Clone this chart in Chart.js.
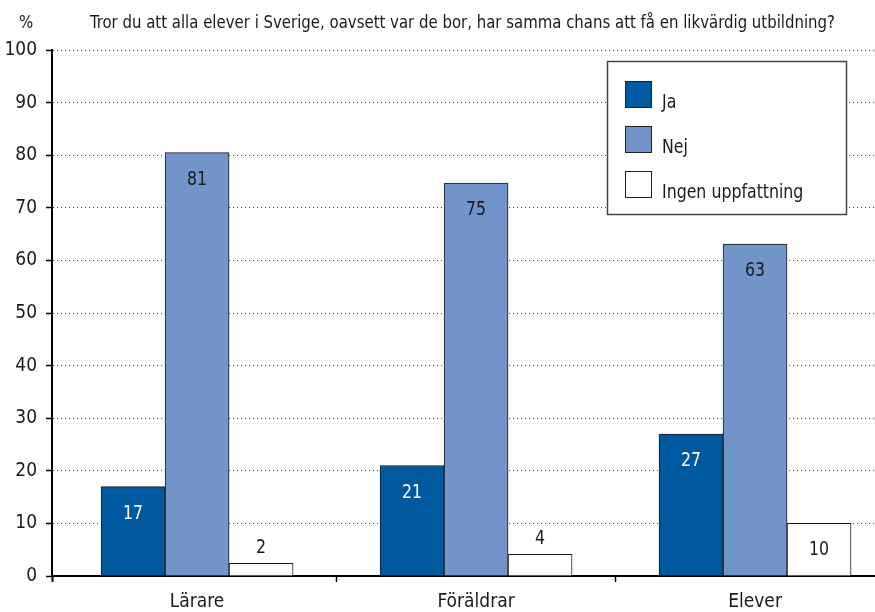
<!DOCTYPE html>
<html><head><meta charset="utf-8">
<script src="https://cdn.jsdelivr.net/npm/chart.js@4.4.0/dist/chart.umd.min.js"></script>
<style>html,body{margin:0;padding:0;background:#fff;overflow:hidden}canvas{display:block}</style>
</head><body>
<canvas id="c" width="875" height="612"></canvas>
<script>
// ---- data ----
const categories = ['Lärare', 'Föräldrar', 'Elever'];
const seriesNames = ['Ja', 'Nej', 'Ingen uppfattning'];
const jaValues = [17, 21, 27];
const nejValues = [80.5, 74.7, 63.1];
const ingenValues = [2.4, 4.1, 10];
const yTickValues = [0, 10, 20, 30, 40, 50, 60, 70, 80, 90, 100];
const unitLabel = '%';
const questionText = 'Tror du att alla elever i Sverige, oavsett var de bor, har samma chans att få en likvärdig utbildning?';

// ---- font selection ----
function pickFont(list){
  const c = document.createElement('canvas').getContext('2d');
  const s = 'abcdefghijklmnopqrstuvwxyz0123456789ABCDEF';
  for (const f of list){
    c.font = '40px monospace'; const w1 = c.measureText(s).width;
    c.font = '40px "' + f + '", monospace'; const w2 = c.measureText(s).width;
    if (Math.abs(w1 - w2) > 1) return f;
  }
  return 'sans-serif';
}
const FONT = pickFont(['Liberation Sans Narrow', 'DejaVu Sans Condensed', 'Roboto', 'Liberation Sans']);
const TXT = '#1a1a1a';

// horizontal compression so text widths resemble the condensed original
const SX = (() => {
  const c = document.createElement('canvas').getContext('2d');
  c.font = '18px "' + FONT + '"';
  return Math.min(1, 745 / c.measureText(questionText).width);
})();

function drawText(ctx, txt, x, y, align){
  ctx.save(); ctx.translate(x, y); ctx.scale(SX, 1);
  ctx.textAlign = align; ctx.fillText(txt, 0, 0);
  ctx.restore();
}

const colors = ['#00589f', '#7195c9', '#ffffff'];
const labelColors = ['#ffffff', TXT, TXT];
const xMin = -0.52, xMax = 2.43;

const valueLabels = {
  id: 'valueLabels',
  afterDatasetsDraw(chart){
    const ctx = chart.ctx; ctx.save();
    ctx.font = '19px "' + FONT + '"'; ctx.textBaseline = 'alphabetic';
    chart.data.datasets.forEach((ds, di) => {
      const meta = chart.getDatasetMeta(di);
      meta.data.forEach((bar, i) => {
        const txt = String(Math.round(ds.data[i].y));
        const h = bar.base - bar.y;
        if (h >= 40){ ctx.fillStyle = labelColors[di]; drawText(ctx, txt, bar.x, bar.y + 32, 'center'); }
        else { ctx.fillStyle = TXT; drawText(ctx, txt, bar.x, bar.y - 10, 'center'); }
      });
    });
    ctx.restore();
  }
};

const boxLegend = {
  id: 'boxLegend',
  afterDraw(chart){
    const ctx = chart.ctx; ctx.save();
    const bx = 607.5, by = 61.5, bw = 239, bh = 153;
    ctx.fillStyle = '#fff'; ctx.fillRect(bx, by, bw, bh);
    ctx.strokeStyle = '#444'; ctx.lineWidth = 1.5; ctx.strokeRect(bx, by, bw, bh);
    ctx.font = '19px "' + FONT + '"'; ctx.textBaseline = 'alphabetic';
    seriesNames.forEach((n, i) => {
      const sy = 81.5 + i * 45;
      ctx.fillStyle = colors[i]; ctx.fillRect(625.5, sy, 26, 26);
      ctx.strokeStyle = '#222'; ctx.lineWidth = 1; ctx.strokeRect(625.5, sy, 26, 26);
      ctx.fillStyle = TXT; drawText(ctx, n, 662, sy + 26, 'left');
    });
    ctx.restore();
  }
};

const titles = {
  id: 'titles',
  afterDraw(chart){
    const ctx = chart.ctx; ctx.save();
    ctx.fillStyle = TXT; ctx.textBaseline = 'alphabetic';
    ctx.font = '18px "' + FONT + '"';
    drawText(ctx, unitLabel, 26, 28, 'center');
    drawText(ctx, questionText, 90, 28, 'left');
    ctx.restore();
  }
};

const mk = (vals) => vals.map((v, i) => ({x: i, y: v}));

new Chart(document.getElementById('c'), {
  type: 'bar',
  data: {
    datasets: [
      {label: seriesNames[0], data: mk(jaValues), backgroundColor: colors[0], borderColor: '#1a1a1a', borderWidth: 1},
      {label: seriesNames[1], data: mk(nejValues), backgroundColor: colors[1], borderColor: '#1a1a1a', borderWidth: 1},
      {label: seriesNames[2], data: mk(ingenValues), backgroundColor: colors[2], borderColor: '#1a1a1a', borderWidth: 1}
    ]
  },
  options: {
    responsive: false, animation: false, devicePixelRatio: 1,
    layout: {padding: {top: 50, left: 0, right: 0, bottom: 0}},
    plugins: {legend: {display: false}, tooltip: {enabled: false}},
    datasets: {bar: {barThickness: 64, grouped: true}},
    scales: {
      x: {
        type: 'linear', min: xMin, max: xMax, bounds: 'data', offset: false,
        afterBuildTicks: s => { s.ticks = [xMin, 0, 0.5, 1, 1.5, 2].map(v => ({value: v})); },
        afterFit: s => { s.height = 36; },
        ticks: {autoSkip: false, maxRotation: 0, minRotation: 0, padding: 9, color: TXT,
          font: {family: FONT, size: 19},
          callback: v => Number.isInteger(v) ? categories[v] : ''},
        grid: {display: true, offset: false, drawOnChartArea: false, drawTicks: true, tickLength: 6,
          tickColor: c => (c.tick && !Number.isInteger(c.tick.value)) ? '#000' : 'rgba(0,0,0,0)',
          tickWidth: c => (c.tick && c.tick.value === xMin) ? 2 : 1.5},
        border: {display: true, color: '#000', width: 2}
      },
      y: {
        min: 0, max: 100,
        afterBuildTicks: s => { s.ticks = yTickValues.map(v => ({value: v})); },
        afterFit: s => { s.width = 52; },
        ticks: {padding: 9, color: TXT, font: {family: FONT, size: 19}},
        grid: {color: c => (c.tick && c.tick.value === 0) ? 'rgba(0,0,0,0)' : '#444', lineWidth: 1,
          drawTicks: true, tickLength: 6, tickColor: '#000', tickWidth: 1.5, tickBorderDash: []},
        border: {display: true, color: '#000', width: 2, dash: [1, 3]}
      }
    }
  },
  plugins: [valueLabels, boxLegend, titles]
});
</script>
</body></html>
